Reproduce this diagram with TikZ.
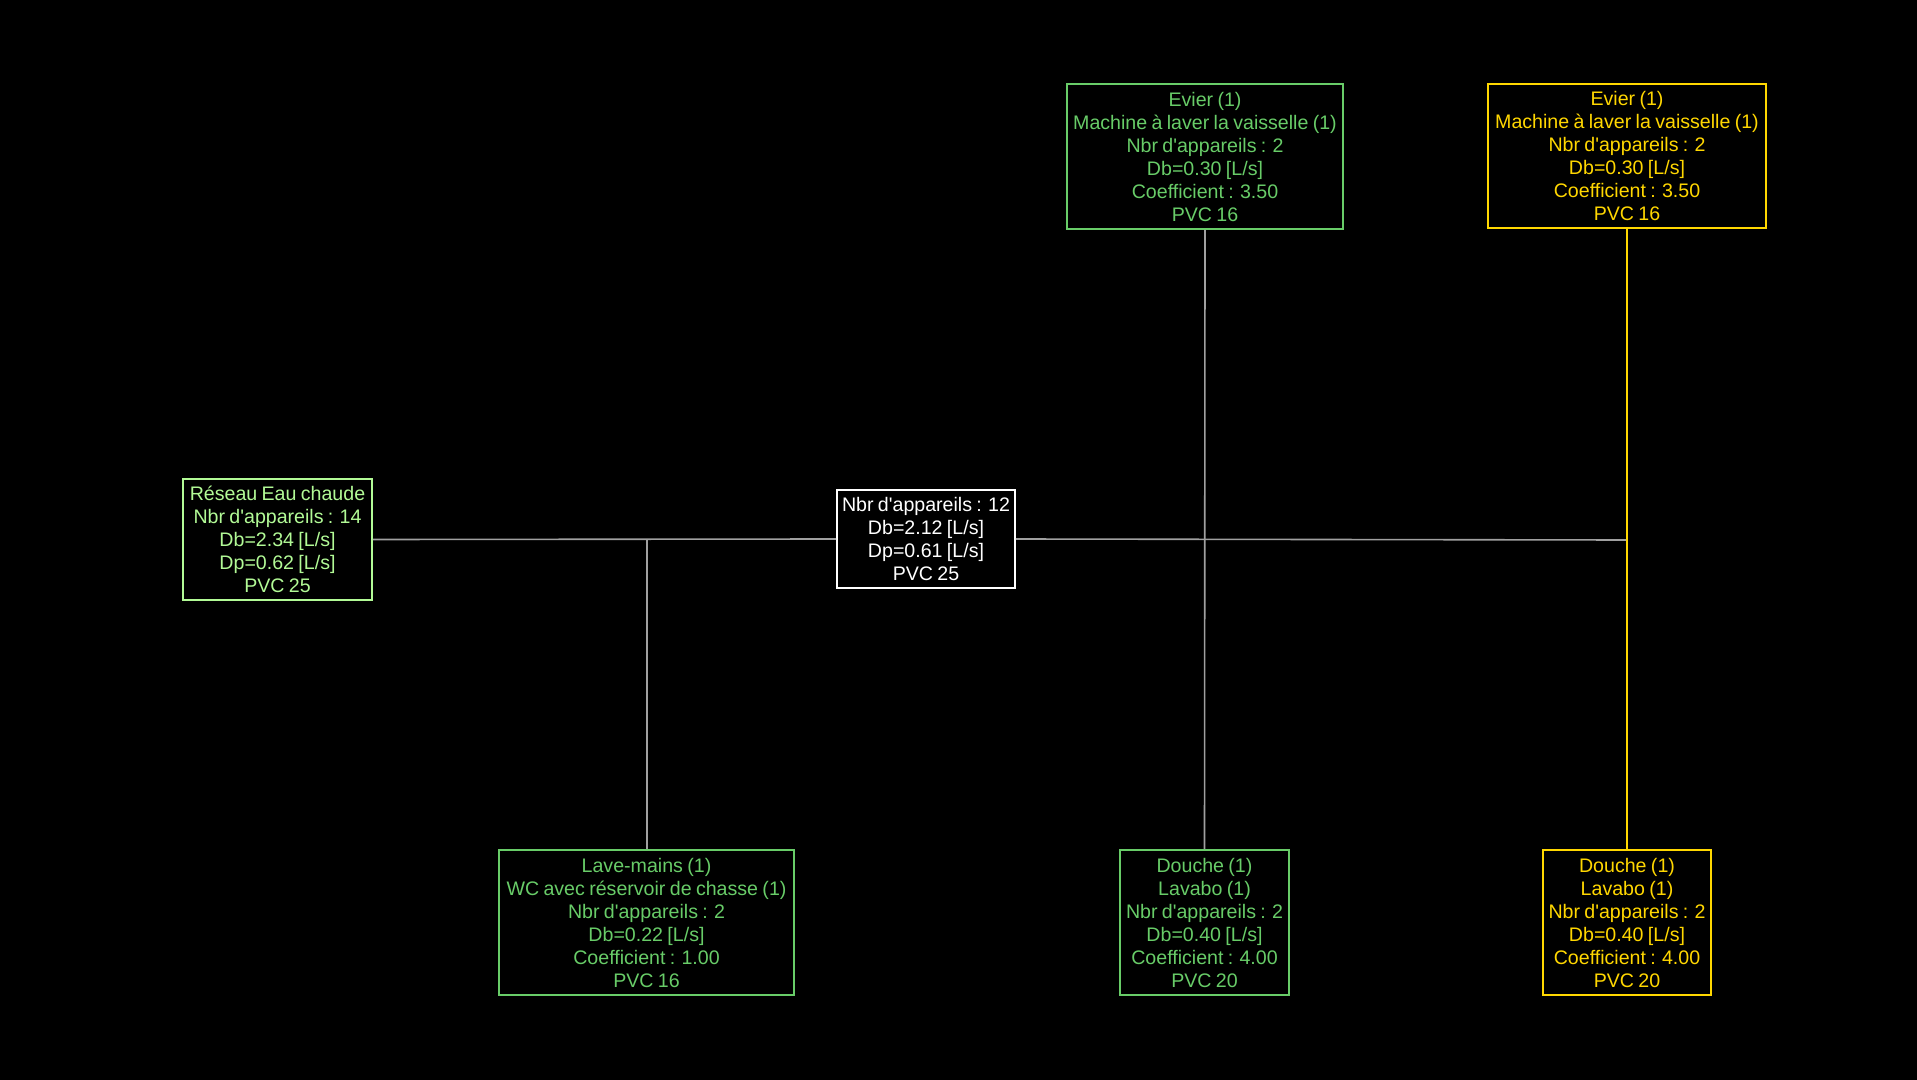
\documentclass[tikz,border=0pt]{standalone}
\usepackage{fontspec}
\setmainfont{Liberation Sans}[WordSpace=0.8]
\usepackage{xcolor}
\usetikzlibrary{positioning}
\definecolor{rootgreen}{RGB}{178,250,150}
\definecolor{leafgreen}{RGB}{104,204,104}
\definecolor{leafyellow}{RGB}{255,215,0}
\definecolor{pipegray}{RGB}{160,160,160}
\newcommand{\nbr}{Nbr d\textquotesingle appareils}

\begin{document}
\begin{tikzpicture}[x=0.5pt,y=-0.5pt,
  box/.style={draw,line width=0.8pt,align=center,inner sep=0pt,
    font=\fontsize{9.8pt}{11.5pt}\selectfont},
  pipe/.style={pipegray,line width=0.8pt}]
\fill[black](0,0)rectangle(1917,1080);
\useasboundingbox(0,0)rectangle(1917,1080);
\node[box,rootgreen,minimum width=94.5pt,minimum height=60.5pt](reseau)at(277.5,539.5)
  {R\'eseau Eau chaude\\\nbr{} : 14\\Db=2.34 [L/s]\\Dp=0.62 [L/s]\\PVC 25};
\node[box,white,minimum width=89pt,minimum height=49pt](troncon)at(926,539)
  {\nbr{} : 12\\Db=2.12 [L/s]\\Dp=0.61 [L/s]\\PVC 25};
\node[box,leafgreen,minimum width=138pt,minimum height=72.5pt](evierA)at(1205,156.5)
  {Evier (1)\\Machine \`a laver la vaisselle (1)\\\nbr{} : 2\\Db=0.30 [L/s]\\Coefficient : 3.50\\PVC 16};
\node[box,leafyellow,minimum width=139pt,minimum height=72pt](evierB)at(1627,156)
  {Evier (1)\\Machine \`a laver la vaisselle (1)\\\nbr{} : 2\\Db=0.30 [L/s]\\Coefficient : 3.50\\PVC 16};
\node[box,leafgreen,minimum width=147.5pt,minimum height=72.5pt](lavemains)at(646.5,922.5)
  {Lave-mains (1)\\WC avec r\'eservoir de chasse (1)\\\nbr{} : 2\\Db=0.22 [L/s]\\Coefficient : 1.00\\PVC 16};
\node[box,leafgreen,minimum width=84.5pt,minimum height=72.5pt](doucheA)at(1204.5,922.5)
  {Douche (1)\\Lavabo (1)\\\nbr{} : 2\\Db=0.40 [L/s]\\Coefficient : 4.00\\PVC 20};
\node[box,leafyellow,minimum width=84pt,minimum height=72.5pt](doucheB)at(1627,922.5)
  {Douche (1)\\Lavabo (1)\\\nbr{} : 2\\Db=0.40 [L/s]\\Coefficient : 4.00\\PVC 20};
\coordinate(j1)at(647,540);
\coordinate(j3)at(1627,540);
\draw[pipe](reseau.east)--(troncon.west);
\draw[pipe](troncon.east)--(j3);
\draw[pipe](j1)--(j1|-lavemains.north);
\draw[pipe](evierA.south)--(doucheA.north);
\draw[leafyellow,line width=0.8pt](evierB.south)--(j3)--(doucheB.north);
\end{tikzpicture}
\end{document}
